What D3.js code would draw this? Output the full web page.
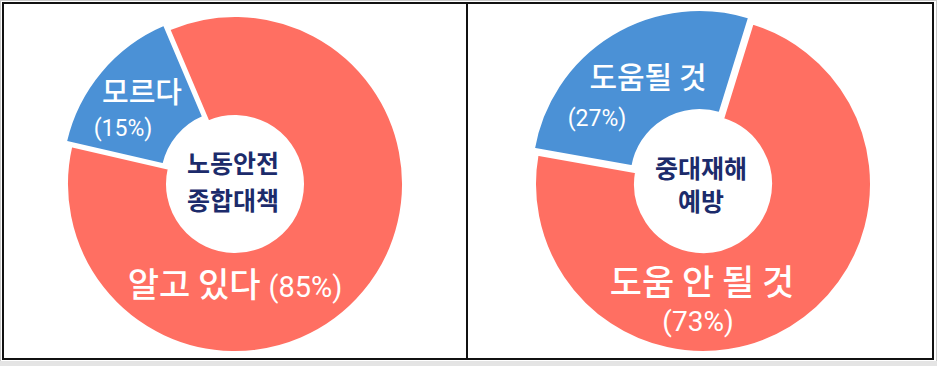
<!DOCTYPE html>
<html>
<head>
<meta charset="utf-8">
<script src="https://cdn.jsdelivr.net/npm/d3@7"></script>
<style>
  body { margin: 0; background: #fff; }
  svg { display: block; }
  text { font-family: "Noto Sans CJK KR", sans-serif; }
  .pct { font-family: Roboto, "Noto Sans CJK KR", sans-serif; }
</style>
</head>
<body>
<div id="chart"></div>
<script>
// data
var leftTitle = ["노동안전", "종합대책"];
var leftLabels = ["모르다", "알고 있다"];
var leftValues = [15, 85];

var rightTitle = ["중대재해", "예방"];
var rightLabels = ["도움될 것", "도움 안 될 것"];
var rightValues = [27, 73];

var colors = ["#4b91d6", "#ff6f62"];

var width = 937, height = 366;
var outerR = 168, innerR = 68;

var svg = d3.select("#chart")
  .append("svg")
    .attr("width", width)
    .attr("height", height);

// frame: thin grey edge, grey strip at bottom, two black boxes
svg.append("rect")
  .attr("x", 0.5).attr("y", 0.5)
  .attr("width", width - 1).attr("height", height - 1)
  .attr("fill", "#fff")
  .attr("stroke", "#c9c9c9");
svg.append("rect")
  .attr("x", 0).attr("y", 361)
  .attr("width", width).attr("height", 5)
  .attr("fill", "#e4e4e4");
svg.append("rect")
  .attr("x", 3).attr("y", 3)
  .attr("width", 930).attr("height", 356)
  .attr("fill", "none")
  .attr("stroke", "#111")
  .attr("stroke-width", 2);
svg.append("line")
  .attr("x1", 467).attr("x2", 467)
  .attr("y1", 3).attr("y2", 359)
  .attr("stroke", "#111")
  .attr("stroke-width", 2);

var arc = d3.arc().innerRadius(innerR).outerRadius(outerR);

function donut(cx, cy, startDeg, labels, values, title, lab) {
  var start = startDeg * Math.PI / 180;
  var pie = d3.pie().sort(null).startAngle(start).endAngle(start + 2 * Math.PI);
  var arcs = pie(values);

  var g = svg.append("g")
    .attr("transform", "translate(" + cx + "," + cy + ")");

  // blue slice is pulled out a little
  g.selectAll("path")
    .data(arcs)
    .enter()
    .append("path")
      .attr("d", arc)
      .attr("fill", function(d, i) { return colors[i]; })
      .attr("stroke", "#fff")
      .attr("stroke-width", 2)
      .attr("transform", function(d, i) {
        if (i != 0) return null;
        var a = (d.startAngle + d.endAngle) / 2, off = 7;
        return "translate(" + (Math.sin(a) * off) + "," + (-Math.cos(a) * off) + ")";
      });

  // centre title
  g.selectAll(".title")
    .data(title)
    .enter()
    .append("text")
      .attr("class", "title")
      .attr("x", -2)
      .attr("y", function(d, i) { return lab.title[i]; })
      .attr("text-anchor", "middle")
      .attr("font-size", 25)
      .attr("font-weight", 700)
      .attr("fill", "#1c2b6b")
      .text(function(d) { return d; });

  // slice labels
  lab.items.forEach(function(p) {
    var t = g.append("text")
      .attr("x", p.x).attr("y", p.y)
      .attr("text-anchor", "middle")
      .attr("fill", "#fff");
    if (p.name) {
      t.append("tspan")
        .attr("font-size", p.fs)
        .attr("font-weight", 500)
        .text(labels[p.i]);
    }
    if (p.pct) {
      t.append("tspan")
        .attr("class", "pct")
        .attr("font-size", p.pfs)
        .attr("dx", p.name ? 8 : 0)
        .text("(" + values[p.i] + "%)");
    }
  });
}

donut(235, 184, -77, leftLabels, leftValues, leftTitle, {
  title: [-11, 26],
  items: [
    {i: 0, name: true, fs: 29, x: -93, y: -81},
    {i: 0, pct: true, pfs: 23, x: -112, y: -48},
    {i: 1, name: true, pct: true, fs: 34, pfs: 29, x: 0, y: 113}
  ]
});

donut(703, 184, -80, rightLabels, rightValues, rightTitle, {
  title: [-6, 27],
  items: [
    {i: 0, name: true, fs: 30, x: -55, y: -96},
    {i: 0, pct: true, pfs: 23, x: -106, y: -58},
    {i: 1, name: true, fs: 35, x: -1, y: 111},
    {i: 1, pct: true, pfs: 28, x: -5, y: 147}
  ]
});
</script>
</body>
</html>
